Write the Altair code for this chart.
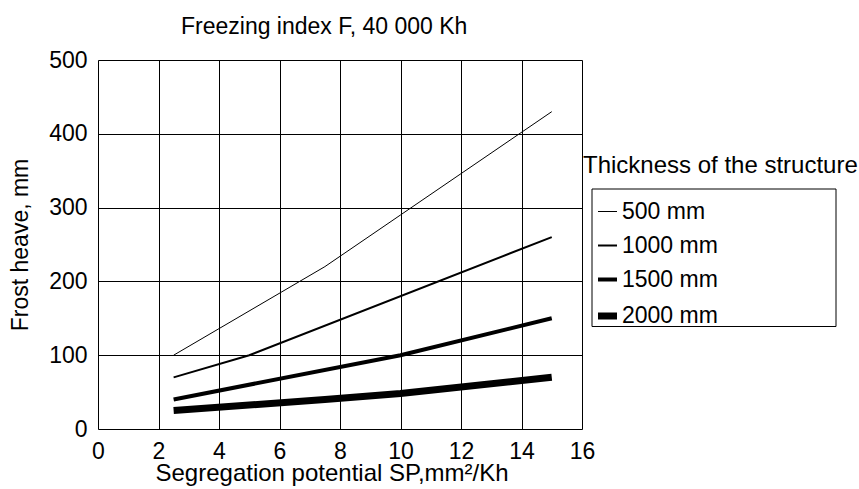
import altair as alt
import pandas as pd

# ---- data ----
thickness = ["500 mm", "1000 mm", "1500 mm", "2000 mm"]
sp_500 = [2.5, 7.5, 10, 15]
heave_500 = [100, 220, 290, 430]
sp_1000 = [2.5, 5, 15]
heave_1000 = [70, 100, 260]
sp_1500 = [2.5, 10, 15]
heave_1500 = [40, 100, 150]
sp_2000 = [2.5, 7.5, 10, 15]
heave_2000 = [25, 40, 48, 70]
x_ticks = [0, 2, 4, 6, 8, 10, 12, 14, 16]
y_ticks = [0, 100, 200, 300, 400, 500]

chart_title = "Freezing index F, 40 000 Kh"
x_title = "Segregation potential SP,mm\u00b2/Kh"
y_title = "Frost heave, mm"
legend_title = "Thickness of the structure"

series = [
    (thickness[0], sp_500, heave_500),
    (thickness[1], sp_1000, heave_1000),
    (thickness[2], sp_1500, heave_1500),
    (thickness[3], sp_2000, heave_2000),
]
rows = []
for name, xs, ys in series:
    for xv, yv in zip(xs, ys):
        rows.append({"thickness": name, "sp": xv, "heave": yv})
df = pd.DataFrame(rows)

FONT = "Liberation Sans"
FS = 23

lines = alt.Chart(df).mark_line(color="black", strokeCap="butt").encode(
    x=alt.X(
        "sp:Q",
        scale=alt.Scale(domain=[0, 16], nice=False),
        axis=alt.Axis(
            values=x_ticks, title=x_title, ticks=False, labelPadding=11,
            labelFlush=False, labelOverlap=False,
            labelFontSize=FS, labelFont=FONT, labelColor="black",
            grid=True, gridColor="black", gridOpacity=1, gridWidth=1,
            domain=False,
            titleFontSize=24, titleFont=FONT, titleFontWeight="normal",
            titleColor="black", titleX=57, titleY=51, titleAlign="left",
            titleBaseline="alphabetic",
        ),
    ),
    y=alt.Y(
        "heave:Q",
        scale=alt.Scale(domain=[0, 500], nice=False),
        axis=alt.Axis(
            values=y_ticks, title=y_title, ticks=False, labelPadding=11,
            labelFlush=False, labelOverlap=False,
            labelFontSize=FS, labelFont=FONT, labelColor="black",
            grid=True, gridColor="black", gridOpacity=1, gridWidth=1,
            domain=False,
            titleFontSize=FS, titleFont=FONT, titleFontWeight="normal",
            titleColor="black", titleX=-71, titleY=184.5, titleAngle=270,
            titleAlign="center", titleBaseline="alphabetic",
        ),
    ),
    strokeWidth=alt.StrokeWidth(
        "thickness:O",
        sort=thickness,
        scale=alt.Scale(type="ordinal", domain=thickness, range=[1, 2, 4, 7]),
        legend=alt.Legend(
            title=None, orient="none", legendX=489.5, legendY=133,
            padding=7, rowPadding=10, symbolType="stroke", symbolSize=361,
            symbolStrokeColor="black", labelFontSize=FS, labelFont=FONT,
            labelColor="black", labelOffset=1.5, labelLimit=500,
        ),
    ),
)

# frame drawn around the legend entries
legend_frame = alt.Chart(pd.DataFrame({"k": [0]})).mark_rect(
    fill="white", stroke="black", strokeWidth=1
).encode(x=alt.value(494), x2=alt.value(738), y=alt.value(129), y2=alt.value(266.5))

leg_title = alt.Chart(pd.DataFrame({"t": [legend_title]})).mark_text(
    align="left", baseline="alphabetic", fontSize=24, font=FONT, color="black"
).encode(x=alt.value(485), y=alt.value(113), text="t:N")

chart = alt.layer(legend_frame, lines, leg_title).properties(
    width=484,
    height=369,
    title=alt.TitleParams(
        chart_title, anchor="start", frame="group", dx=83, dy=30, offset=22,
        fontSize=FS, font=FONT, fontWeight="normal", color="black",
        baseline="alphabetic",
    ),
    autosize=alt.AutoSizeParams(type="none"),
    padding={"left": 98, "top": 60, "right": 277, "bottom": 60},
).configure_view(stroke="black", strokeWidth=1).configure(background="white")

chart.save("out.html", embed_options={"renderer": "svg", "actions": False})
